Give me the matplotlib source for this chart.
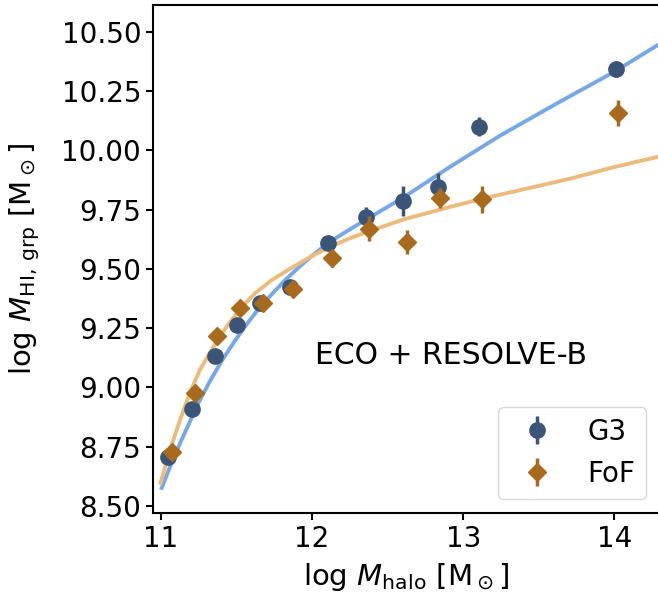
import matplotlib
matplotlib.use("Agg")
import matplotlib.pyplot as plt

# group HI mass vs halo mass, ECO + RESOLVE-B
g3_x = [11.048, 11.203, 11.357, 11.503, 11.655, 11.854, 12.107, 12.357, 12.604, 12.831, 13.107, 14.009]
g3_y = [8.708, 8.908, 9.133, 9.264, 9.358, 9.425, 9.608, 9.721, 9.787, 9.845, 10.100, 10.344]
g3_err = [0.015, 0.015, 0.015, 0.015, 0.015, 0.02, 0.02, 0.042, 0.065, 0.062, 0.04, 0.035]

fof_x = [11.071, 11.225, 11.369, 11.523, 11.677, 11.876, 12.130, 12.377, 12.626, 12.846, 13.127, 14.027]
fof_y = [8.729, 8.978, 9.217, 9.334, 9.355, 9.414, 9.545, 9.669, 9.615, 9.801, 9.795, 10.159]
fof_err = [0.015, 0.015, 0.015, 0.015, 0.015, 0.03, 0.035, 0.053, 0.05, 0.042, 0.057, 0.056]

# fitted curves
g3_fit_x = [11.0, 11.06, 11.13, 11.2, 11.247, 11.32, 11.402, 11.48, 11.556, 11.64, 11.733,
            11.82, 11.909, 12.0, 12.107, 12.25, 12.42, 12.60, 12.91, 13.25, 13.64, 14.0, 14.30]
g3_fit_y = [8.568, 8.665, 8.77, 8.868, 8.933, 9.022, 9.112, 9.188, 9.257, 9.327, 9.393,
            9.452, 9.505, 9.556, 9.610, 9.667, 9.732, 9.800, 9.930, 10.065, 10.206, 10.332, 10.450]
fof_fit_x = [10.993, 11.06, 11.126, 11.19, 11.258, 11.336, 11.40, 11.468, 11.54, 11.622, 11.73,
             11.842, 11.98, 12.118, 12.24, 12.363, 12.6, 12.913, 13.15, 13.442, 13.707, 14.0, 14.30]
fof_fit_y = [8.589, 8.736, 8.863, 8.975, 9.075, 9.158, 9.226, 9.285, 9.343, 9.397, 9.452,
             9.496, 9.548, 9.593, 9.627, 9.656, 9.708, 9.762, 9.800, 9.842, 9.881, 9.930, 9.975]

xticks = [11, 12, 13, 14]
yticks = [8.5, 8.75, 9.0, 9.25, 9.5, 9.75, 10.0, 10.25, 10.5]

plt.rcParams['font.size'] = 20

fig = plt.figure(figsize=(6.58, 6.03), dpi=100)
ax = fig.add_axes([0.2325, 0.1493, 0.7705, 0.8424])

ax.plot(g3_fit_x, g3_fit_y, color='#77a8e6', lw=2.8, solid_capstyle='butt', zorder=1)
ax.plot(fof_fit_x, fof_fit_y, color='#ecbb7c', lw=2.8, solid_capstyle='butt', zorder=1)

ax.errorbar(g3_x, g3_y, yerr=g3_err, fmt='o', color='#3b5578', ms=11,
            elinewidth=2.5, capsize=0, label='G3', zorder=3)
ax.errorbar(fof_x, fof_y, yerr=fof_err, fmt='D', color='#a86b1e', ms=9,
            elinewidth=2.5, capsize=0, label='FoF', zorder=4)

ax.text(12.92, 9.133, 'ECO + RESOLVE-B', ha='center', va='center', fontsize=21.5)

ax.set_xlim(10.947, 14.302)
ax.set_ylim(8.470, 10.614)
ax.set_xticks(xticks)
ax.set_yticks(yticks)
ax.set_yticklabels([f"{v:.2f}" for v in yticks])
ax.tick_params(width=1.5, length=5)
for s in ax.spines.values():
    s.set_linewidth(1.5)

ax.set_xlabel(r'$\log\,M_{\rm halo}\ [{\rm M}_\odot]$', fontsize=21, labelpad=6)
ax.set_ylabel(r'$\log\,M_{\rm HI,\,grp}\ [{\rm M}_\odot]$', fontsize=21, labelpad=14)

ax.legend(loc='lower right')

fig.savefig('out.png', dpi=100)
